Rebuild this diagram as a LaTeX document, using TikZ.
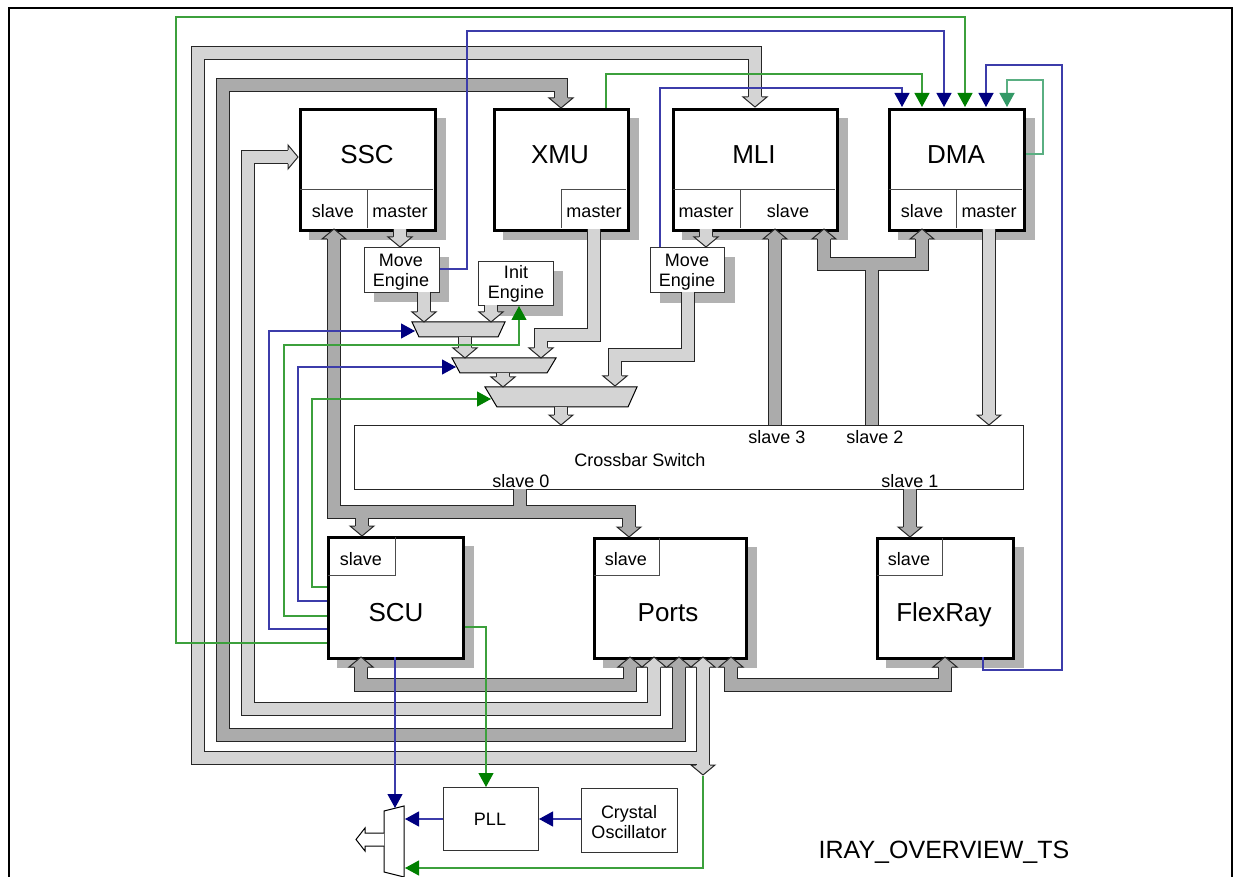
\documentclass[tikz,border=0pt]{standalone}
\usepackage{fontspec}
\setmainfont{Liberation Sans}
\usetikzlibrary{arrows.meta}
\definecolor{busL}{gray}{0.83}
\definecolor{busD}{gray}{0.67}
\definecolor{shad}{gray}{0.70}
\definecolor{lblue}{RGB}{60,60,170}
\definecolor{hblue}{RGB}{0,0,128}
\definecolor{lgreen}{RGB}{60,160,60}
\definecolor{hgreen}{RGB}{0,128,0}
\definecolor{lteal}{RGB}{90,175,130}
\definecolor{hteal}{RGB}{51,153,102}
\newcommand\bheadshape[1]{%
  \fill[#1] (-12,-10) -- (-6,-10) -- (-6,-11.5) -- (6,-11.5) -- (6,-10) -- (12,-10) -- (0,0) -- cycle;
  \draw[black!85, line width=1pt, line join=miter] (-7,-10) -- (-12,-10) -- (0,0) -- (12,-10) -- (7,-10);}
\newcommand\busline[2]{\draw[busout] #2; \draw[#1] #2;}
\tikzset{
  busout/.style={line width=14pt, draw=black!85, line join=miter},
  bl/.style={line width=12pt, draw=busL, line join=miter},
  bd/.style={line width=12pt, draw=busD, line join=miter},
  pics/bhL/.style={code={\bheadshape{busL}}},
  pics/bhD/.style={code={\bheadshape{busD}}},
  mainbox/.style={draw, line width=3pt, fill=white, inner sep=0pt, anchor=north west},
  smallbox/.style={draw=black!80, line width=1pt, fill=white, inner sep=0pt, anchor=north west},
  sub/.style={draw=black!70, line width=1pt},
  mainlbl/.style={anchor=base, inner sep=0pt, font=\fontsize{26}{30}\selectfont},
  lbl/.style={anchor=base, inner sep=0pt, font=\fontsize{18}{20}\selectfont},
  lbl2/.style={anchor=center, inner sep=0pt, align=center, font=\fontsize{18}{20}\selectfont},
  lb/.style={draw=lblue, line width=1.2pt, line join=miter, -{Triangle[width=15pt,length=14pt,color=hblue]}},
  lg/.style={draw=lgreen, line width=1.2pt, line join=miter, -{Triangle[width=15pt,length=14pt,color=hgreen]}},
  lt/.style={draw=lteal, line width=1.2pt, line join=miter, -{Triangle[width=15pt,length=14pt,color=hteal]}},
  muxst/.style={draw=black, line width=1pt, fill=busL, line join=miter},
}
\begin{document}
\begin{tikzpicture}[x=1pt,y=-1pt]
\useasboundingbox (0,0) rectangle (1235,877);
\fill[white] (0,0) rectangle (1235,877);
% frame
\draw[line width=1.5pt] (9,895) -- (9,8) -- (1232,8) -- (1232,895);

% shadows
\fill[shad] (309,118) rectangle (446,240);
\fill[shad] (503,118) rectangle (639,240);
\fill[shad] (682,118) rectangle (848,240);
\fill[shad] (898,118) rectangle (1035,240);
\fill[shad] (337,546) rectangle (474,668);
\fill[shad] (603,547) rectangle (757,668);
\fill[shad] (886,547) rectangle (1024,668);
\fill[shad] (374,257) rectangle (449,302);
\fill[shad] (488,271) rectangle (563,316);
\fill[shad] (660,257) rectangle (735,303);

% main boxes
\node[mainbox, minimum width=135pt, minimum height=121pt] (ssc) at (299,108) {};
\node[mainbox, minimum width=134pt, minimum height=121pt] (xmu) at (493,108) {};
\node[mainbox, minimum width=164pt, minimum height=121pt] (mli) at (672,108) {};
\node[mainbox, minimum width=135pt, minimum height=121pt] (dma) at (888,108) {};
\node[mainbox, minimum width=135pt, minimum height=121pt] (scu) at (327,536) {};
\node[mainbox, minimum width=152pt, minimum height=120pt] (ports) at (593,537) {};
\node[mainbox, minimum width=136pt, minimum height=120pt] (flex) at (876,537) {};
% small boxes
\node[smallbox, minimum width=75pt, minimum height=45pt] (me1) at (364,247) {};
\node[smallbox, minimum width=75pt, minimum height=44pt] (init) at (478,261) {};
\node[smallbox, minimum width=74pt, minimum height=45pt] (me2) at (650,247) {};
\node[smallbox, minimum width=95pt, minimum height=63pt] (pll) at (443,787) {};
\node[smallbox, minimum width=96pt, minimum height=64pt] (xtal) at (581,788) {};
\node[draw=black!85, line width=1pt, fill=white, inner sep=0pt, anchor=north west, minimum width=669pt, minimum height=64pt] (xbar) at (354,425) {};

% sub boxes
\draw[sub] (300,190) -- (433,190) (367,190) -- (367,228);
\draw[sub] (561,228) -- (561,190) -- (626,190);
\draw[sub] (673,190) -- (835,190) (740,190) -- (740,228);
\draw[sub] (889,190) -- (1022,190) (956,190) -- (956,228);
\draw[sub] (328,575) -- (395,575) -- (395,537);
\draw[sub] (594,575) -- (659,575) -- (659,538);
\draw[sub] (877,575) -- (942,575) -- (942,538);

% multiplexers
\draw[muxst] (412,322) -- (505,322) -- (498,337) -- (419,337) -- cycle;
\draw[muxst] (452,358) -- (556,358) -- (547,373) -- (460,373) -- cycle;
\draw[muxst] (485,387) -- (637,387) -- (628,407) -- (497,407) -- cycle;
\draw[black, line width=1pt, fill=white] (384,811) -- (404,806) -- (404,877) -- (384,872) -- cycle;
\draw[black, line width=1pt, fill=white] (384,833) -- (365,833) -- (365,828) -- (356,839.5) -- (365,851) -- (365,846) -- (384,846);

% buses
\busline{bl}{(400,229) -- (400,237)}
\busline{bl}{(706,229) -- (706,237)}
\busline{bl}{(424,292) -- (424,312)}
\busline{bl}{(491,305) -- (491,312)}
\busline{bl}{(465,337) -- (465,348)}
\busline{bl}{(594,229) -- (594,335) -- (541,335) -- (541,348)}
\busline{bl}{(503,373) -- (503,377)}
\busline{bl}{(688,292) -- (688,355) -- (615,355) -- (615,376)}
\busline{bl}{(561,407) -- (561,415)}
\busline{bl}{(989,229) -- (989,415)}
\busline{bd}{(775,425) -- (775,239)}
\busline{bd}{(824,239) -- (824,264) -- (922,264) -- (922,239) (872,264) -- (872,425)}
\busline{bd}{(334,239) -- (334,512) -- (629,512) -- (629,527) (362,512) -- (362,526) (520,489) -- (520,512)}
\busline{bd}{(910,489) -- (910,527)}
\busline{bd}{(361,667) -- (361,685) -- (630,685) -- (630,667)}
\busline{bd}{(731,667) -- (731,685) -- (945,685) -- (945,667)}
\busline{bl}{(288,157) -- (248,157) -- (248,709) -- (654,709) -- (654,667)}
\busline{bd}{(561,98) -- (561,85) -- (223,85) -- (223,735) -- (679,735) -- (679,667)}
\busline{bl}{(755,97) -- (755,53) -- (198,53) -- (198,758) -- (703,758) (703,667) -- (703,765)}

% bus heads
\foreach \p in {(400,247),(706,247),(424,322),(491,322),(465,358),(541,358),(503,387),(615,386),(561,425),(989,425),(755,107),(703,775)}
  \pic at \p {bhL};
\foreach \p in {(654,657),(703,657)}
  \pic[rotate=180] at \p {bhL};
\pic[rotate=90] at (298,157) {bhL};
\foreach \p in {(561,108),(362,536),(629,537),(910,537)}
  \pic at \p {bhD};
\foreach \p in {(775,229),(824,229),(922,229),(334,229),(361,657),(630,657),(679,657),(731,657),(945,657)}
  \pic[rotate=180] at \p {bhD};

% thin signal lines
\draw[lg] (scu.west |- 0,643) -- (176,643) -- (176,17) -- (965,17) -- (965,107);
\draw[lb] (me1.east |- 0,269) -- (467,269) -- (467,31) -- (944,31) -- (944,107);
\draw[lg] (606,108) -- (606,74) -- (922,74) -- (922,107);
\draw[lb] (660,247) -- (660,88) -- (902,88) -- (902,107);
\draw[lb] (983,657) -- (983,670) -- (1062,670) -- (1062,65) -- (986,65) -- (986,107);
\draw[lt] (dma.east |- 0,154) -- (1043,154) -- (1043,80) -- (1007,80) -- (1007,107);
\draw[lb] (scu.west |- 0,629) -- (269,629) -- (269,331) -- (415,331);
\draw[lg] (scu.west |- 0,616) -- (284,616) -- (284,345) -- (519,345) -- (519,306);
\draw[lb] (scu.west |- 0,601) -- (298,601) -- (298,367) -- (456,367);
\draw[lg] (scu.west |- 0,587) -- (312,587) -- (312,399) -- (491,399);
\draw[lg] (scu.east |- 0,627) -- (486,627) -- (486,787);
\draw[lb] (395,657) -- (395,808);
\draw[lb] (pll.west |- 0,819) -- (405,819);
\draw[lb] (xtal.west |- 0,819) -- (539,819);
\draw[lg] (703,776) -- (703,868) -- (405,868);

% labels
\node[mainlbl] (sscl) at (367,164) {SSC};
\node[mainlbl] (xmul) at (560,164) {XMU};
\node[mainlbl] (mlil) at (754,164) {MLI};
\node[mainlbl] (dmal) at (956,164) {DMA};
\node[mainlbl] (scul) at (396,621) {SCU};
\node[mainlbl] (portsl) at (668,621) {Ports};
\node[mainlbl] (flexl) at (944,621) {FlexRay};
\node[lbl] (sscs) at (333,218) {slave};
\node[lbl] (sscm) at (400,218) {master};
\node[lbl] (xmum) at (594,218) {master};
\node[lbl] (mlim) at (706,218) {master};
\node[lbl] (mlis) at (788,218) {slave};
\node[lbl] (dmas) at (922,218) {slave};
\node[lbl] (dmam) at (989,218) {master};
\node[lbl] (scus) at (361,565) {slave};
\node[lbl] (portss) at (626,565) {slave};
\node[lbl] (flexs) at (909,565) {slave};
\node[lbl] (xs3) at (777,443) {slave 3};
\node[lbl] (xs2) at (875,443) {slave 2};
\node[lbl] (xs0) at (521,487) {slave 0};
\node[lbl] (xs1) at (910,487) {slave 1};
\node[lbl] (xlab) at (640,466) {Crossbar Switch};
\node[lbl2] (me1l) at (401,272) {Move\\Engine};
\node[lbl2] (initl) at (516,284) {Init\\Engine};
\node[lbl2] (me2l) at (687,272) {Move\\Engine};
\node[lbl2] (plll) at (490,819) {PLL};
\node[lbl2] (xtall) at (629,822) {Crystal\\Oscillator};
\node[anchor=base, inner sep=0pt, font=\fontsize{25}{28}\selectfont] (title) at (944,858) {IRAY\_OVERVIEW\_TS};
\end{tikzpicture}
\end{document}
